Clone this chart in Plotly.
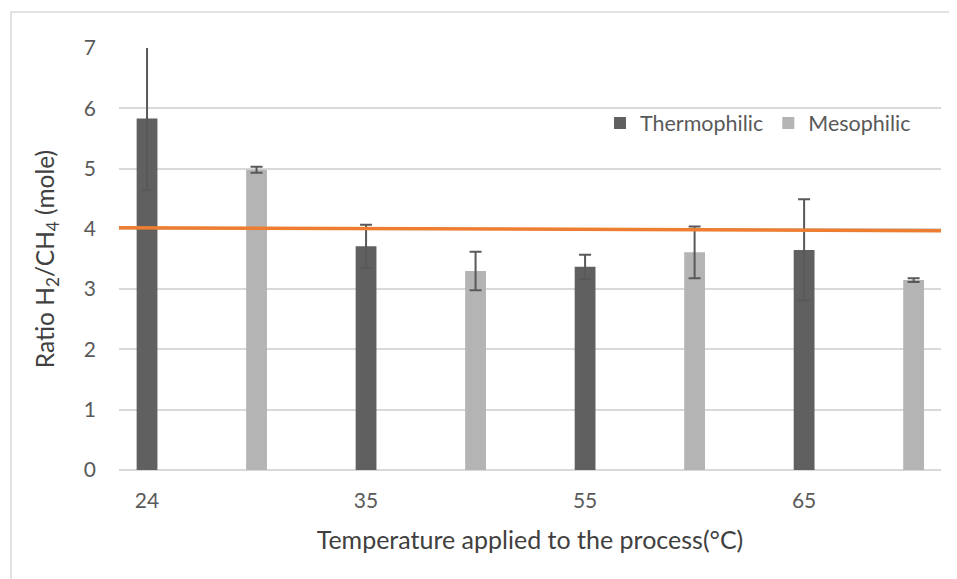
import plotly.graph_objects as go

# ---- data ----
categories = ["24", "35", "55", "65"]
thermophilic = [5.83, 3.71, 3.37, 3.65]
thermophilic_err = [1.19, 0.36, 0.20, 0.84]
mesophilic = [4.98, 3.30, 3.61, 3.15]
mesophilic_err = [0.05, 0.32, 0.43, 0.03]
reference_x = [-0.27, 7.31]
reference_y = [4.02, 3.97]

FONT = "Lato"
TXT = "#595959"

x_thermo = [2 * i for i in range(len(categories))]
x_meso = [2 * i + 1 for i in range(len(categories))]

# page renders with an 8px body offset
OFF = 8
L, R, T, B = 119 - OFF, 16 + OFF, 48 - OFF, 109 + OFF
PW = 957 - L - R
PH = 579 - T - B

fig = go.Figure()
fig.add_trace(go.Bar(
    x=x_thermo, y=thermophilic, name="Thermophilic", width=0.19,
    marker=dict(color="#606060", line=dict(width=0)),
    error_y=dict(type="data", array=thermophilic_err, visible=True,
                 color="#595959", thickness=2, width=6),
))
fig.add_trace(go.Bar(
    x=x_meso, y=mesophilic, name="Mesophilic", width=0.19,
    marker=dict(color="#b4b4b4", line=dict(width=0)),
    error_y=dict(type="data", array=mesophilic_err, visible=True,
                 color="#595959", thickness=2, width=6),
))
fig.add_trace(go.Scatter(
    x=reference_x, y=reference_y, mode="lines", showlegend=False,
    line=dict(color="#ED7D31", width=3.5), cliponaxis=False,
    hoverinfo="skip",
))

fig.update_layout(
    width=957, height=579,
    margin=dict(l=L, r=R, t=T, b=B),
    paper_bgcolor="white", plot_bgcolor="white",
    font=dict(family=FONT, color=TXT, size=21),
    barmode="overlay",
    showlegend=True,
    legend=dict(orientation="h", x=(600 - 119) / PW, xanchor="left",
                y=(470 - 123) / PH, yanchor="middle",
                font=dict(family=FONT, size=21.5, color=TXT),
                bgcolor="rgba(0,0,0,0)", itemwidth=30),
    xaxis=dict(
        range=[-0.256, 7.25], tickmode="array",
        tickvals=x_thermo, ticktext=categories,
        showgrid=False, zeroline=False, showline=False, ticks="",
        tickfont=dict(family=FONT, size=21, color=TXT),
        ticklabelstandoff=16,
        title=dict(text="Temperature applied to the process(°C)",
                   font=dict(family=FONT, size=25, color="#404040"), standoff=20),
    ),
    yaxis=dict(
        range=[0, 7], dtick=1, showgrid=True, gridcolor="#d9d9d9", gridwidth=1.5,
        zeroline=True, zerolinecolor="#d9d9d9", zerolinewidth=1.5,
        showline=False, ticks="",
        tickfont=dict(family=FONT, size=21, color=TXT),
        ticklabelstandoff=22,
        title=dict(text="Ratio H<sub>2</sub>/CH<sub>4</sub> (mole)",
                   font=dict(family=FONT, size=24.5, color="#404040"), standoff=22),
    ),
    shapes=[dict(type="rect", xref="paper", yref="paper",
                 x0=(11 - 119) / PW, x1=1.08, y0=-0.4, y1=(470 - 12) / PH,
                 line=dict(color="#d9d9d9", width=1.5), fillcolor="rgba(0,0,0,0)",
                 layer="below")],
)

fig.write_html("out.html")
